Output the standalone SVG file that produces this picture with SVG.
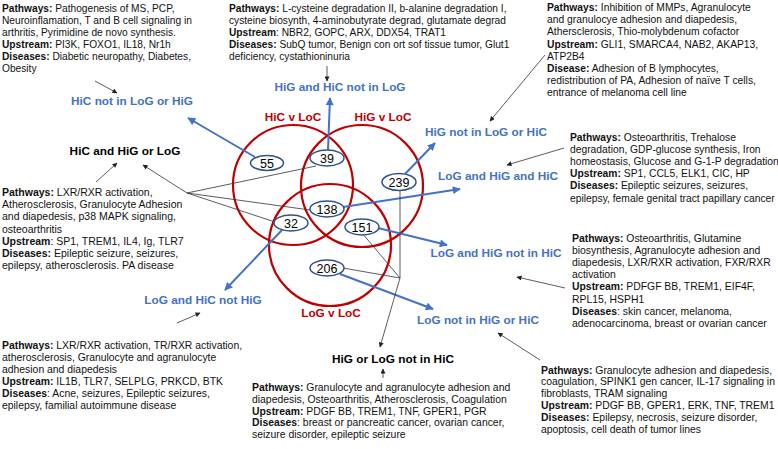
<svg xmlns="http://www.w3.org/2000/svg" width="778" height="449" viewBox="0 0 778 449">
<style>
.body{font-family:"Liberation Sans",Arial,sans-serif;font-size:10.2px;fill:#111}
.s3{font-size:10.3px}
.s4{font-size:10.4px}
.s5{font-size:10.5px}
.b{font-weight:bold}
.lbl{font-family:"Liberation Sans",Arial,sans-serif;font-size:11.8px;font-weight:bold;text-anchor:middle}
.blue{fill:#4472C4}
.red{fill:#C00000}
.blk{fill:#000}
.set{fill:none;stroke:#C00000;stroke-width:2.2}
.cnt{fill:#fff;stroke:#2F528F;stroke-width:1.5}
.num{font-family:"Liberation Sans",Arial,sans-serif;font-size:12.5px;text-anchor:middle;fill:#000}
.ba{stroke:#4472C4;stroke-width:2;fill:none;marker-end:url(#ab)}
.ka{stroke:#333;stroke-width:0.8;fill:none;marker-end:url(#ak)}
.kl{stroke:#333;stroke-width:0.8;fill:none}
</style>
<defs>
<marker id="ab" viewBox="0 0 10 10" refX="9" refY="5" markerWidth="9" markerHeight="8" markerUnits="userSpaceOnUse" orient="auto"><path d="M0,0 L10,5 L0,10 z" fill="#4472C4"/></marker>
<marker id="ak" viewBox="0 0 10 10" refX="9" refY="5" markerWidth="6" markerHeight="5" markerUnits="userSpaceOnUse" orient="auto"><path d="M0,0 L10,5 L0,10 z" fill="#222"/></marker>
</defs>
<rect width="778" height="449" fill="#fff"/>

<g id="sets">
<circle class="set" cx="293" cy="185" r="60"/>
<circle class="set" cx="362" cy="186" r="61"/>
<circle class="set" cx="330" cy="245" r="61"/>
<text class="lbl red" x="293" y="121">HiC v LoC</text>
<text class="lbl red" x="383" y="121">HiG v LoC</text>
<text class="lbl red" x="331" y="317">LoG v LoC</text>
</g>

<g id="connectors">
<line class="ba" x1="255" y1="157" x2="188" y2="118"/>
<line class="ba" x1="328" y1="150" x2="330" y2="98"/>
<line class="ba" x1="405" y1="174" x2="435" y2="143"/>
<line class="ba" x1="343" y1="207" x2="460" y2="189"/>
<line class="ba" x1="378" y1="228" x2="447" y2="245"/>
<line class="ba" x1="340" y1="274" x2="433" y2="309"/>
<line class="ba" x1="282" y1="230" x2="225" y2="290"/>
<line class="kl" x1="187" y1="193" x2="316" y2="166"/>
<line class="kl" x1="187" y1="193" x2="310" y2="210"/>
<line class="kl" x1="187" y1="193" x2="275" y2="222"/>
<line class="ka" x1="187" y1="193" x2="143" y2="165"/>
<line class="ka" x1="96" y1="182" x2="117" y2="163"/>
<line class="kl" x1="400" y1="190" x2="400" y2="278"/>
<line class="kl" x1="362" y1="233" x2="400" y2="278"/>
<line class="kl" x1="343" y1="268" x2="400" y2="278"/>
<line class="ka" x1="400" y1="278" x2="380" y2="347"/>
<line class="ka" x1="95" y1="81" x2="117" y2="93"/>
<line class="ka" x1="327" y1="66" x2="327" y2="81"/>
<line class="ka" x1="545" y1="55" x2="490" y2="121"/>
<line class="ka" x1="564" y1="148" x2="507" y2="165"/>
<line class="ka" x1="565" y1="288" x2="517" y2="277"/>
<line class="ka" x1="540" y1="360" x2="498" y2="333"/>
<line class="ka" x1="383" y1="378" x2="383" y2="369"/>
<line class="ka" x1="177" y1="323" x2="200" y2="313"/>
</g>

<g id="n55"><ellipse class="cnt" cx="267" cy="163" rx="16.5" ry="7.5"/><text class="num" x="267" y="167.5">55</text></g>
<g id="n39"><ellipse class="cnt" cx="327" cy="158" rx="17" ry="8"/><text class="num" x="327" y="162.5">39</text></g>
<g id="n239"><ellipse class="cnt" cx="399" cy="182" rx="17" ry="8.5"/><text class="num" x="399" y="186.5">239</text></g>
<g id="n138"><ellipse class="cnt" cx="327" cy="209" rx="17" ry="8"/><text class="num" x="327" y="213.5">138</text></g>
<g id="n32"><ellipse class="cnt" cx="291" cy="223" rx="17" ry="8"/><text class="num" x="291" y="227.5">32</text></g>
<g id="n151"><ellipse class="cnt" cx="362" cy="227" rx="17" ry="8"/><text class="num" x="362" y="231.5">151</text></g>
<g id="n206"><ellipse class="cnt" cx="327" cy="268" rx="17" ry="8"/><text class="num" x="327" y="272.5">206</text></g>

<g id="labels">
<text class="lbl blue" x="132" y="105">HiC not in LoG or HiG</text>
<text class="lbl blue" x="340" y="91">HiG and HiC not in LoG</text>
<text class="lbl blue" x="486" y="136">HiG not in LoG or HiC</text>
<text class="lbl blue" x="498" y="180">LoG and HiG and HiC</text>
<text class="lbl blue" x="496" y="257">LoG and HiG not in HiC</text>
<text class="lbl blue" x="478" y="324">LoG not in HiG or HiC</text>
<text class="lbl blue" x="203" y="304">LoG and HiC not HiG</text>
<text class="lbl blk" x="125" y="155">HiC and HiG or LoG</text>
<text class="lbl blk" x="393" y="363">HiG or LoG not in HiC</text>
</g>

<g id="info-hic">
<text class="body" x="2" y="11.5"><tspan class="b">Pathways:</tspan> Pathogenesis of MS, PCP,</text>
<text class="body" x="2" y="23.5">Neuroinflamation, T and B cell signaling in</text>
<text class="body" x="2" y="35.5">arthritis, Pyrimidine de novo synthesis.</text>
<text class="body" x="2" y="47.5"><tspan class="b">Upstream:</tspan> PI3K, FOXO1, IL18, Nr1h</text>
<text class="body" x="2" y="59.5"><tspan class="b">Diseases:</tspan> Diabetic neuropathy, Diabetes,</text>
<text class="body" x="2" y="71.5">Obesity</text>
</g>
<g id="info-higc">
<text class="body" x="229" y="11.5"><tspan class="b">Pathways:</tspan> L-cysteine degradation II, b-alanine degradation I,</text>
<text class="body" x="229" y="23.5">cysteine biosynth, 4-aminobutyrate degrad, glutamate degrad</text>
<text class="body" x="229" y="35.5"><tspan class="b">Upstream</tspan>: NBR2, GOPC, ARX, DDX54, TRAT1</text>
<text class="body" x="229" y="47.5"><tspan class="b">Diseases:</tspan> SubQ tumor, Benign con ort sof tissue tumor, Glut1</text>
<text class="body" x="229" y="59.5">deficiency, cystathioninuria</text>
</g>
<g id="info-hig">
<text class="body s3" x="547" y="11"><tspan class="b">Pathways:</tspan> Inhibition of MMPs, Agranulocyte</text>
<text class="body s3" x="547" y="23.2">and granulocye adhesion and diapedesis,</text>
<text class="body s3" x="547" y="35.4">Athersclerosis, Thio-molybdenum cofactor</text>
<text class="body s3" x="547" y="47.6"><tspan class="b">Upstream:</tspan> GLI1, SMARCA4, NAB2, AKAP13,</text>
<text class="body s3" x="547" y="59.8">ATP2B4</text>
<text class="body s3" x="547" y="72"><tspan class="b">Disease:</tspan> Adhesion of B lymphocytes,</text>
<text class="body s3" x="547" y="84.2">redistribution of PA, Adhesion of naïve T cells,</text>
<text class="body s3" x="547" y="96.4">entrance of melanoma cell line</text>
</g>
<g id="info-all">
<text class="body s3" x="570" y="140.5"><tspan class="b">Pathways:</tspan> Osteoarthritis, Trehalose</text>
<text class="body s3" x="570" y="152.7">degradation, GDP-glucose synthesis, Iron</text>
<text class="body s3" x="570" y="164.9">homeostasis, Glucose and G-1-P degradation</text>
<text class="body s3" x="570" y="177.1"><tspan class="b">Upstream:</tspan> SP1, CCL5, ELK1, CIC, HP</text>
<text class="body s3" x="570" y="189.3"><tspan class="b">Diseases:</tspan> Epileptic seizures, seizures,</text>
<text class="body s3" x="570" y="201.5">epilepsy, female genital tract papillary cancer</text>
</g>
<g id="info-loghig">
<text class="body s4" x="572" y="241.5"><tspan class="b">Pathways:</tspan> Osteoarthritis, Glutamine</text>
<text class="body s4" x="572" y="253.7">biosynthesis, Agranulocyte adhesion and</text>
<text class="body s4" x="572" y="265.9">diapedesis, LXR/RXR activation, FXR/RXR</text>
<text class="body s4" x="572" y="278.1">activation</text>
<text class="body s4" x="572" y="290.3"><tspan class="b">Upstream:</tspan> PDFGF BB, TREM1, EIF4F,</text>
<text class="body s4" x="572" y="302.5">RPL15, HSPH1</text>
<text class="body s4" x="572" y="314.7"><tspan class="b">Diseases</tspan>: skin cancer, melanoma,</text>
<text class="body s4" x="572" y="326.9">adenocarcinoma, breast or ovarian cancer</text>
</g>
<g id="info-log">
<text class="body s4" x="541" y="373.5"><tspan class="b">Pathways:</tspan> Granulocyte adhesion and diapedesis,</text>
<text class="body s4" x="541" y="385.3">coagulation, SPINK1 gen cancer, IL-17 signaling in</text>
<text class="body s4" x="541" y="397.1">fibroblasts, TRAM signaling</text>
<text class="body s4" x="541" y="408.9"><tspan class="b">Upstream:</tspan> PDGF BB, GPER1, ERK, TNF, TREM1</text>
<text class="body s4" x="541" y="420.7"><tspan class="b">Diseases:</tspan> Epilepsy, necrosis, seizure disorder,</text>
<text class="body s4" x="541" y="432.5">apoptosis, cell death of tumor lines</text>
</g>
<g id="info-loghic">
<text class="body s4" x="2" y="349"><tspan class="b">Pathways:</tspan> LXR/RXR activation, TR/RXR activation,</text>
<text class="body s4" x="2" y="361">atherosclerosis, Granulocyte and agranulocyte</text>
<text class="body s4" x="2" y="373">adhesion and diapedesis</text>
<text class="body s4" x="2" y="385"><tspan class="b">Upstream:</tspan> IL1B, TLR7, SELPLG, PRKCD, BTK</text>
<text class="body s4" x="2" y="397"><tspan class="b">Diseases</tspan>: Acne, seizures, Epileptic seizures,</text>
<text class="body s4" x="2" y="409">epilepsy, familial autoimmune disease</text>
</g>
<g id="info-higlog">
<text class="body s4" x="252" y="391"><tspan class="b">Pathways:</tspan> Granulocyte and agranulocyte adhesion and</text>
<text class="body s4" x="252" y="402.8">diapedesis, Osteoarthritis, Atherosclerosis, Coagulation</text>
<text class="body s4" x="252" y="414.6"><tspan class="b">Upstream:</tspan> PDGF BB, TREM1, TNF, GPER1, PGR</text>
<text class="body s4" x="252" y="426.4"><tspan class="b">Diseases</tspan>: breast or pancreatic cancer, ovarian cancer,</text>
<text class="body s4" x="252" y="438.2">seizure disorder, epileptic seizure</text>
</g>
<g id="info-hicor">
<text class="body s5" x="2" y="196"><tspan class="b">Pathways:</tspan> LXR/RXR activation,</text>
<text class="body s5" x="2" y="208.2">Atherosclerosis, Granulocyte Adhesion</text>
<text class="body s5" x="2" y="220.4">and diapedesis, p38 MAPK signaling,</text>
<text class="body s5" x="2" y="232.6">osteoarthritis</text>
<text class="body s5" x="2" y="244.8"><tspan class="b">Upstream</tspan>: SP1, TREM1, IL4, Ig, TLR7</text>
<text class="body s5" x="2" y="257"><tspan class="b">Diseases:</tspan>  Epileptic seizure, seizures,</text>
<text class="body s5" x="2" y="269.2">epilepsy, atherosclerosis. PA disease</text>
</g>
</svg>
